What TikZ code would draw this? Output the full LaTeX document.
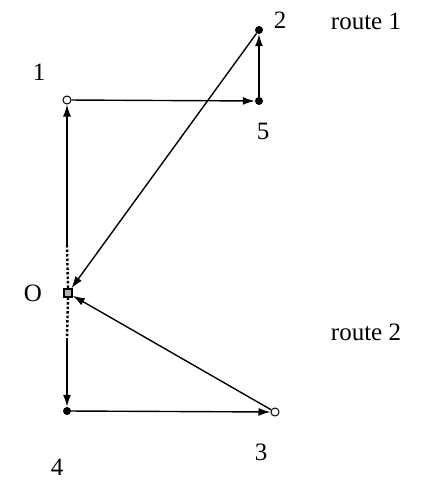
\documentclass[tikz,border=0pt]{standalone}
\usepackage{fontspec}
\setmainfont{Liberation Serif}
\usetikzlibrary{arrows.meta}
\begin{document}
\begin{tikzpicture}[x=1pt,y=-1pt,
  arr/.style={line width=1.4pt,-{Latex[length=12pt,width=8pt]}},
  fdot/.style={circle,fill=black,inner sep=0pt,minimum size=8pt},
  odot/.style={circle,draw=black,fill=white,line width=1pt,inner sep=0pt,minimum size=8pt},
  lbl/.style={font=\fontsize{25}{28}\selectfont,inner sep=0pt}]
\useasboundingbox (0,0) rectangle (421,483);
\node[fdot] (p2) at (259,30) {};
\node[fdot] (p5) at (259,101) {};
\node[odot] (p1) at (67,100) {};
\node[fdot] (p4) at (67,411) {};
\node[odot] (p3) at (275,412) {};
\node[draw=black,fill=gray!60,line width=1.4pt,inner sep=0pt,minimum size=8pt] (o) at (68,293) {};
\coordinate (a1) at (67,245);
\coordinate (a2) at (67,338);
% vertical lines
\draw[arr] (a1) -- (p1.south);
\draw[arr] (a2) -- (p4.north);
\draw[line width=2.4pt,dash pattern=on 2.5pt off 2pt] (a1) -- (o.north);
\draw[line width=2.4pt,dash pattern=on 2.5pt off 2pt] (o.south) -- (a2);
% arrows
\draw[arr] (p1) -- (p5);
\draw[arr] (p5) -- (p2);
\draw[arr] (p2) -- (o);
\draw[arr] (p4) -- (p3);
\draw[arr] (p3) -- (o);
% labels
\node[lbl] (l1) at (39,72) {1};
\node[lbl] (l2) at (280,20) {2};
\node[lbl] (l5) at (263,131) {5};
\node[lbl] (lo) at (33,293) {O};
\node[lbl] (l3) at (261,452) {3};
\node[lbl] (l4) at (57,467) {4};
\node[lbl] (r1) at (366,21) {route 1};
\node[lbl] (r2) at (366,332) {route 2};
\end{tikzpicture}
\end{document}
